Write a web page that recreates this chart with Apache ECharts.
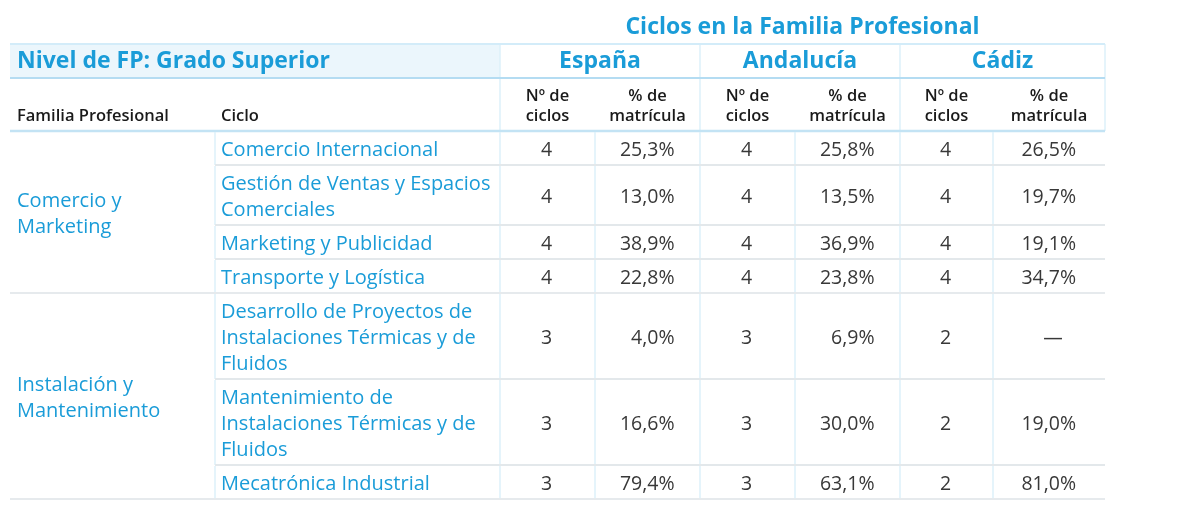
<!DOCTYPE html>
<html>
<head>
<meta charset="utf-8">
<script src="https://cdn.jsdelivr.net/npm/echarts@6/dist/echarts.min.js"></script>
<style>
  html, body { margin: 0; padding: 0; background: #fff; }
  #main { width: 1180px; height: 510px; }
</style>
</head>
<body>
<div id="main"></div>
<script>
// datos de la tabla
var titulo = 'Ciclos en la Familia Profesional';
var nivel = 'Nivel de FP: Grado Superior';
var territorios = ['España', 'Andalucía', 'Cádiz'];
var cabeceras = ['Familia Profesional', 'Ciclo', 'Nº de\nciclos', '% de\nmatrícula'];
var familias = ['Comercio y\nMarketing', 'Instalación y\nMantenimiento'];
var familiaDeCiclo = [0, 0, 0, 0, 1, 1, 1];
var ciclos = [
    'Comercio Internacional',
    'Gestión de Ventas y Espacios\nComerciales',
    'Marketing y Publicidad',
    'Transporte y Logística',
    'Desarrollo de Proyectos de\nInstalaciones Térmicas y de\nFluidos',
    'Mantenimiento de\nInstalaciones Térmicas y de\nFluidos',
    'Mecatrónica Industrial'
];
var nCiclosEspana = [4, 4, 4, 4, 3, 3, 3];
var pctEspana = [25.3, 13.0, 38.9, 22.8, 4.0, 16.6, 79.4];
var nCiclosAndalucia = [4, 4, 4, 4, 3, 3, 3];
var pctAndalucia = [25.8, 13.5, 36.9, 23.8, 6.9, 30.0, 63.1];
var nCiclosCadiz = [4, 4, 4, 4, 2, 2, 2];
var pctCadiz = [26.5, 19.7, 19.1, 34.7, null, 19.0, 81.0];

var nCiclos = [nCiclosEspana, nCiclosAndalucia, nCiclosCadiz];
var pct = [pctEspana, pctAndalucia, pctCadiz];

// maqueta (unidades del eje = px)
var COLS = [0, 205, 490, 585, 690, 785, 890, 983, 1095];
var HEAD = [44, 34, 53];
var PAD = 8, LINE = 26;
var AZUL = '#1a9cd8';
var GRIS = '#383838';
var FONT = '"Open Sans", "Noto Sans", sans-serif';

var bodyTop = HEAD[0] + HEAD[1] + HEAD[2];
var rowTop = [], rowH = [];
var acc = bodyTop;
ciclos.forEach(function (c) {
    var h = PAD + LINE * c.split('\n').length;
    rowTop.push(acc);
    rowH.push(h);
    acc += h;
});
var totalH = acc;

function fmtPct(v) {
    return v == null ? '—' : v.toFixed(1).replace('.', ',') + '%';
}
function txt(p, text, align, vAlign, size, weight, color, lh) {
    return {
        type: 'text',
        style: {
            x: p[0], y: p[1], text: text,
            align: align, textAlign: align,
            verticalAlign: vAlign, textVerticalAlign: vAlign,
            fontSize: size, fontWeight: weight, fontFamily: FONT,
            lineHeight: lh || size * 1.3,
            fill: color
        }
    };
}
function seg(a, b, color, w) {
    return {
        type: 'line',
        shape: { x1: a[0], y1: a[1], x2: b[0], y2: b[1] },
        style: { stroke: color, lineWidth: w }
    };
}

var myChart = echarts.init(document.getElementById('main'));

var option = {
    animation: false,
    grid: { left: 10, width: 1095, top: 0, height: totalH },
    xAxis: { type: 'value', min: 0, max: 1095, show: false },
    yAxis: { type: 'value', min: 0, max: totalH, inverse: true, show: false },
    series: [
        {
            // cabecera
            type: 'custom',
            silent: true,
            z: 2,
            data: [[0]],
            renderItem: function (params, api) {
                var P = function (x, y) { return api.coord([x, y]); };
                var y1 = HEAD[0], y2 = HEAD[0] + HEAD[1], y3 = bodyTop;
                var ch = [];
                ch.push({
                    type: 'rect',
                    shape: { x: P(0, y1)[0], y: P(0, y1)[1], width: P(COLS[2], 0)[0] - P(0, 0)[0], height: P(0, y2)[1] - P(0, y1)[1] },
                    style: { fill: '#ebf6fc' }
                });
                [COLS[2], COLS[4], COLS[6], COLS[8]].forEach(function (x) {
                    ch.push(seg(P(x, y1), P(x, y3), '#dcf0fa', 1.5));
                });
                ch.push(seg(P(0, y1), P(COLS[8], y1), '#d3ecf9', 2));
                ch.push(seg(P(0, y2), P(COLS[8], y2), '#b4dcf2', 2));
                ch.push(seg(P(0, y3), P(COLS[8], y3), '#c3e3f4', 2.5));
                ch.push(txt(P((COLS[2] + COLS[8]) / 2, HEAD[0] / 2 + 5), titulo, 'center', 'middle', 23, 'bold', AZUL));
                ch.push(txt(P(7, (y1 + y2) / 2), nivel, 'left', 'middle', 23, 'bold', AZUL));
                territorios.forEach(function (t, k) {
                    ch.push(txt(P((COLS[2 + 2 * k] + COLS[4 + 2 * k]) / 2, (y1 + y2) / 2), t, 'center', 'middle', 23, 'bold', AZUL));
                    ch.push(txt(P((COLS[2 + 2 * k] + COLS[3 + 2 * k]) / 2, y3 - 5), cabeceras[2], 'center', 'bottom', 16.5, 600, '#1a1a1a', 20));
                    ch.push(txt(P((COLS[3 + 2 * k] + COLS[4 + 2 * k]) / 2, y3 - 5), cabeceras[3], 'center', 'bottom', 16.5, 600, '#1a1a1a', 20));
                });
                ch.push(txt(P(7, y3 - 5), cabeceras[0], 'left', 'bottom', 16.5, 600, '#1a1a1a', 20));
                ch.push(txt(P(COLS[1] + 6, y3 - 5), cabeceras[1], 'left', 'bottom', 16.5, 600, '#1a1a1a', 20));
                return { type: 'group', children: ch };
            }
        },
        {
            // filas de ciclos
            type: 'custom',
            silent: true,
            z: 3,
            data: ciclos.map(function (c, i) { return [i]; }),
            renderItem: function (params, api) {
                var P = function (x, y) { return api.coord([x, y]); };
                var i = api.value(0);
                var top = rowTop[i], bot = rowTop[i] + rowH[i], mid = top + rowH[i] / 2 + 2;
                var ultimo = i === ciclos.length - 1 || familiaDeCiclo[i + 1] !== familiaDeCiclo[i];
                var ch = [];
                for (var c = 1; c < COLS.length - 1; c++) {
                    ch.push(seg(P(COLS[c], top + 1), P(COLS[c], bot), '#dcf0fa', 1.5));
                }
                ch.push(seg(P(ultimo ? 0 : COLS[1], bot), P(COLS[8], bot), ultimo ? '#e6eaed' : '#e3e8eb', 2));
                ch.push(txt(P(COLS[1] + 6, mid), ciclos[i], 'left', 'middle', 20, 'normal', AZUL, LINE));
                for (var k = 0; k < 3; k++) {
                    var cN = (COLS[2 + 2 * k] + COLS[3 + 2 * k]) / 2;
                    var cP = (COLS[3 + 2 * k] + COLS[4 + 2 * k]) / 2;
                    ch.push(txt(P(cN - 1, mid), String(nCiclos[k][i]), 'center', 'middle', 19.5, 'normal', GRIS));
                    var v = pct[k][i];
                    if (v == null) {
                        ch.push(txt(P(cP + 4, mid), fmtPct(v), 'center', 'middle', 19.5, 'normal', GRIS));
                    } else {
                        ch.push(txt(P(cP + 27, mid), fmtPct(v), 'right', 'middle', 19.5, 'normal', GRIS));
                    }
                }
                return { type: 'group', children: ch };
            }
        },
        {
            // familias profesionales
            type: 'custom',
            silent: true,
            z: 3,
            data: familias.map(function (f, j) { return [j]; }),
            renderItem: function (params, api) {
                var j = api.value(0);
                var idx = [];
                familiaDeCiclo.forEach(function (f, i) { if (f === j) idx.push(i); });
                var top = rowTop[idx[0]];
                var last = idx[idx.length - 1];
                var bot = rowTop[last] + rowH[last];
                return txt(api.coord([7, (top + bot) / 2 + 2]), familias[j], 'left', 'middle', 20, 'normal', AZUL, LINE);
            }
        }
    ]
};

myChart.setOption(option);
window.addEventListener('resize', function () {
    myChart.resize();
});
</script>
</body>
</html>
